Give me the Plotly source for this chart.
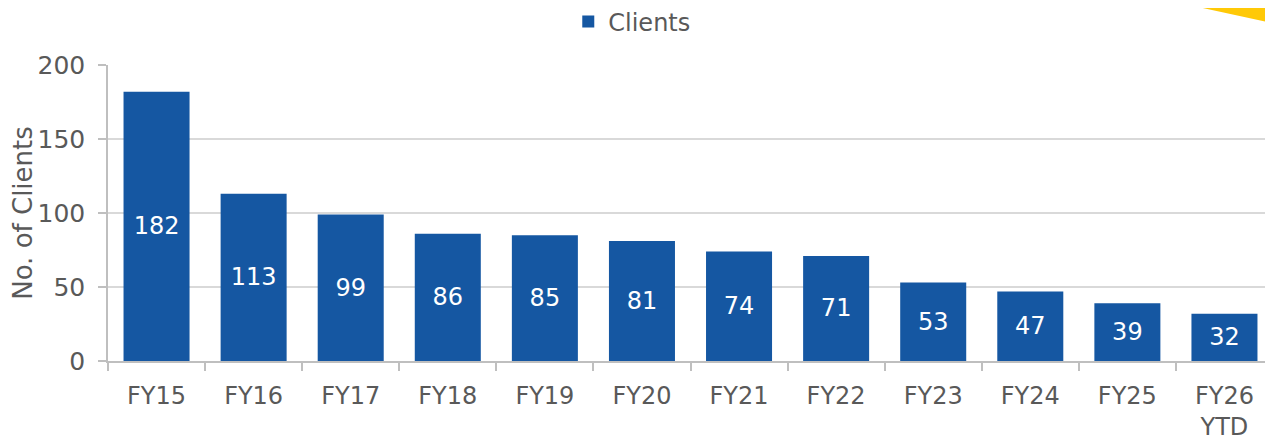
import plotly.graph_objects as go

categories = ["FY15", "FY16", "FY17", "FY18", "FY19", "FY20", "FY21", "FY22",
              "FY23", "FY24", "FY25", "FY26<br>YTD"]
clients = [182, 113, 99, 86, 85, 81, 74, 71, 53, 47, 39, 32]
y_ticks = [0, 50, 100, 150, 200]

FONT = "DejaVu Sans"
GREY = "#595959"
FS = 24

fig = go.Figure()
fig.add_trace(go.Bar(
    x=categories, y=clients, name="Clients",
    marker=dict(color="#1557a2", line=dict(width=0)),
    text=[str(v) for v in clients],
    textposition="inside", insidetextanchor="middle",
    textfont=dict(family=FONT, size=FS, color="white"),
    constraintext="none", showlegend=True,
))

# the page has an 8px body margin, so figure px = page px - 8
OFF = 8
W, H = 1273, 439
L, R, T, B = 108 - OFF, OFF, 65 - OFF, H - (361 - OFF)
pw, ph = W - L - R, H - T - B
def px(x):
    return (x - OFF - L) / pw
def py(y):
    return (H - B - (y - OFF)) / ph

fig.add_shape(type="path", xref="paper", yref="paper",
              path=f"M {px(1166)} {py(0)} L {px(1290)} {py(0)} L {px(1290)} {py(27)} Z",
              fillcolor="#ffc907", line=dict(width=0), layer="above")

fig.update_layout(
    width=W, height=H,
    margin=dict(l=L, r=R, t=T, b=B, autoexpand=False),
    paper_bgcolor="white", plot_bgcolor="white",
    font=dict(family=FONT, size=FS, color=GREY),
    bargap=0.32,
    showlegend=True,
    legend=dict(orientation="h", xref="container", yref="container",
                x=0.49, xanchor="center", y=1 - 14 / H, yanchor="middle",
                bgcolor="rgba(0,0,0,0)",
                font=dict(family=FONT, size=FS, color=GREY),
                itemwidth=30, tracegroupgap=0),
    xaxis=dict(showline=True, linecolor="#bfbfbf", linewidth=1.5,
               ticks="outside", tickson="boundaries", ticklen=8,
               tickcolor="#bfbfbf", tickwidth=1.5,
               ticklabelstandoff=12, automargin=False,
               tickfont=dict(family=FONT, size=FS, color=GREY),
               showgrid=False),
    yaxis=dict(range=[0, 200], tickvals=y_ticks,
               showline=True, linecolor="#bfbfbf", linewidth=1.5,
               ticks="outside", ticklen=8, tickcolor="#bfbfbf", tickwidth=1.5,
               ticklabelstandoff=8, automargin=False,
               showgrid=True, gridcolor="#d9d9d9", gridwidth=1.5,
               zeroline=False,
               tickfont=dict(family=FONT, size=25, color=GREY),
               title=dict(text="No. of Clients", standoff=10,
                          font=dict(family=FONT, size=26, color=GREY))),
)

fig.write_html("out.html")
